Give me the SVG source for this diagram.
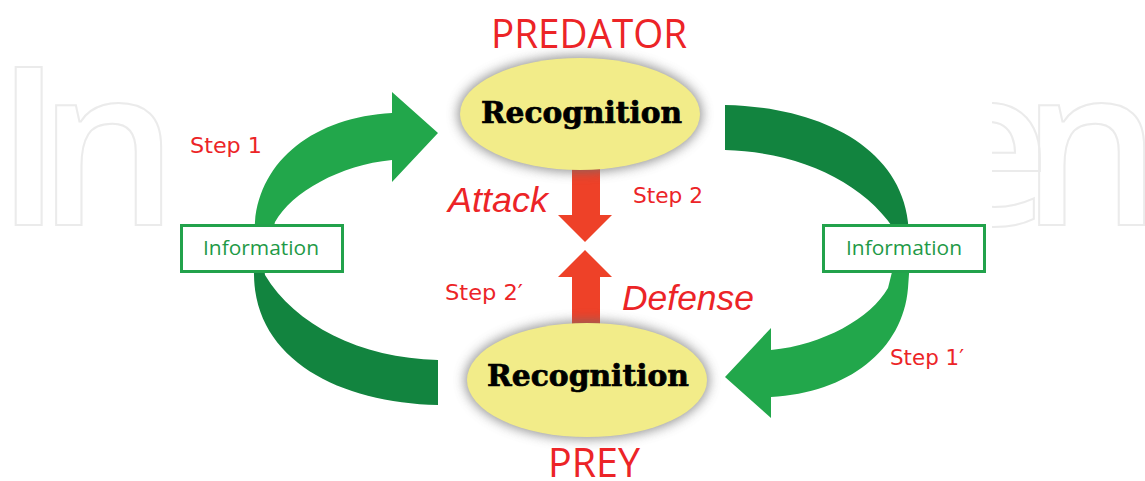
<svg xmlns="http://www.w3.org/2000/svg" width="1145" height="481" viewBox="0 0 1145 481">
  <style>
    .wm { font-family: "Open Sans", "DejaVu Sans", sans-serif; font-weight: 600; font-size: 221px; fill: none; stroke: #ebebeb; stroke-width: 2; }
    .light { fill: #22a74b; }
    .dark { fill: #12843f; }
    .red-arrow { fill: #ee4128; }
    .ell { fill: #f2ec89; }
    .shadow { fill: #6d6d6d; opacity: 0.75; }
    .box { fill: #ffffff; stroke: #22a24b; stroke-width: 3; }
    .info { font-family: "Open Sans", "DejaVu Sans", sans-serif; font-size: 20px; fill: #1f9a47; text-anchor: middle; }
    .rec { font-family: "DejaVu Serif", "Liberation Serif", serif; font-weight: bold; font-size: 29px; fill: #000000; stroke: #000000; stroke-width: 0.7; }
    .title { font-family: "Open Sans", "DejaVu Sans", sans-serif; font-size: 41px; fill: #ec2427; }
    .step { font-family: "DejaVu Sans", "Open Sans", sans-serif; font-size: 21px; fill: #ec2427; }
    .act { font-family: "Liberation Sans", Arial, sans-serif; font-style: italic; font-size: 35px; fill: #ec2427; }
  </style>
  <defs>
    <filter id="blur" x="-30%" y="-40%" width="160%" height="180%">
      <feGaussianBlur stdDeviation="6"/>
    </filter>
    <clipPath id="wmclip">
      <rect x="0" y="0" width="170" height="481"/>
      <rect x="992" y="0" width="153" height="481"/>
    </clipPath>
  </defs>

  <rect x="0" y="0" width="1145" height="481" fill="#ffffff"/>

  <g id="watermark" clip-path="url(#wmclip)">
    <text class="wm" x="-5 38" y="225">In</text>
    <text class="wm" x="923 1021" y="225">en</text>
  </g>

  <g id="connectors">
    <path id="arrow-step1" class="light" d="M 253,250 L 255,222 C 260,160 315,117 392,113 L 392,92 L 438,133 L 392,182 L 392,160 C 340,165 292,192 275,222 L 268,250 Z"/>
    <path id="band-left-lower" class="dark" d="M 253,248 L 254,275 C 255,360 340,403 438,405 L 438,360 C 360,358 295,325 265,275 L 262,248 Z"/>
    <g transform="rotate(180 581.5 255)">
      <path id="arrow-step1p" class="light" d="M 253,250 L 255,222 C 260,160 315,117 392,113 L 392,92 L 438,133 L 392,182 L 392,160 C 340,165 292,192 275,222 L 268,250 Z"/>
      <path id="band-right-upper" class="dark" d="M 253,248 L 254,275 C 255,360 340,403 438,405 L 438,360 C 360,358 295,325 265,275 L 262,248 Z"/>
    </g>
    <polygon id="arrow-attack" class="red-arrow" points="572,165 600,165 600,215 612,215 585,242 558,215 572,215"/>
    <polygon id="arrow-defense" class="red-arrow" points="585,250 612,277 600,277 600,330 572,330 572,277 558,277"/>
  </g>

  <g id="info-left">
    <rect class="box" x="181.5" y="225.5" width="161" height="46"/>
    <text class="info" x="261" y="255" textLength="116" lengthAdjust="spacingAndGlyphs">Information</text>
  </g>
  <g id="info-right">
    <rect class="box" x="823.5" y="225.5" width="161" height="46"/>
    <text class="info" x="904" y="255" textLength="116" lengthAdjust="spacingAndGlyphs">Information</text>
  </g>

  <g id="predator">
    <ellipse class="shadow" cx="580" cy="114" rx="122" ry="58" filter="url(#blur)"/>
    <ellipse class="ell" cx="580" cy="114" rx="120" ry="56"/>
    <text class="rec" x="481" y="123" textLength="201" lengthAdjust="spacingAndGlyphs">Recognition</text>
    <text class="title" x="491" y="48" textLength="196" lengthAdjust="spacingAndGlyphs">PREDATOR</text>
  </g>

  <g id="prey">
    <ellipse class="shadow" cx="587" cy="380" rx="122" ry="59" filter="url(#blur)"/>
    <ellipse class="ell" cx="587" cy="380" rx="120" ry="57"/>
    <text class="rec" x="487" y="386" textLength="202" lengthAdjust="spacingAndGlyphs">Recognition</text>
    <text class="title" x="548" y="477" textLength="92" lengthAdjust="spacingAndGlyphs">PREY</text>
  </g>

  <g id="labels">
    <text class="step" x="190" y="153" textLength="72" lengthAdjust="spacingAndGlyphs">Step 1</text>
    <text class="step" x="633" y="203" textLength="70" lengthAdjust="spacingAndGlyphs">Step 2</text>
    <text class="step" x="445" y="300" textLength="78" lengthAdjust="spacingAndGlyphs">Step 2′</text>
    <text class="step" x="890" y="365" textLength="74" lengthAdjust="spacingAndGlyphs">Step 1′</text>
    <text class="act" x="448" y="212" textLength="100" lengthAdjust="spacingAndGlyphs">Attack</text>
    <text class="act" x="622" y="310" textLength="132" lengthAdjust="spacingAndGlyphs">Defense</text>
  </g>
</svg>
